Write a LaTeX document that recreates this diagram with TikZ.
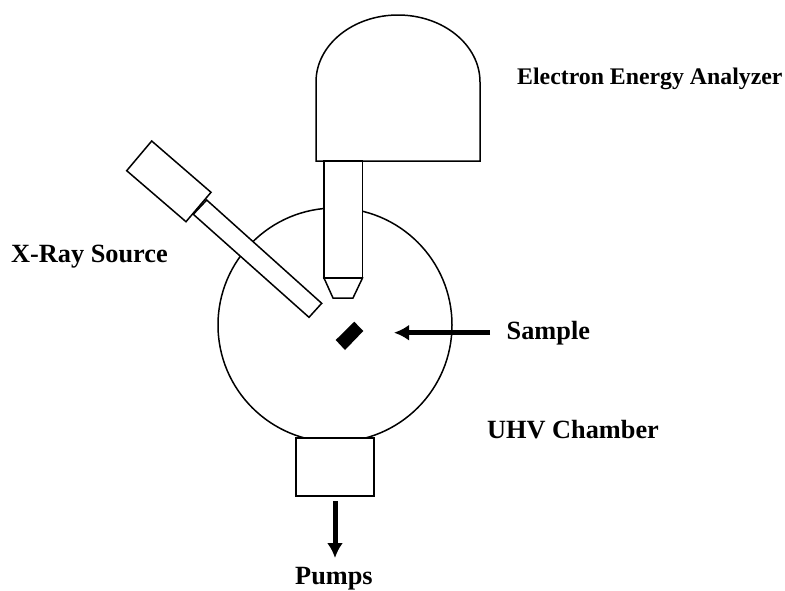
\documentclass[tikz,border=0pt]{standalone}
\usepackage{fontspec}
\setmainfont{Liberation Serif}
\usetikzlibrary{arrows.meta}
\tikzset{
  part/.style={draw=black, fill=white, line width=1.5pt, line join=miter},
  bigarrow/.style={-{Latex[length=15pt,width=16pt]}, line width=5pt, black},
  tag/.style={anchor=base west, inner sep=0pt, font=\fontsize{26.3}{30}\selectfont\bfseries},
  smalltag/.style={tag, font=\fontsize{23.8}{27}\selectfont\bfseries}
}
\begin{document}
\begin{tikzpicture}[x=1pt, y=-1pt]
  \useasboundingbox (0, 0) rectangle (785, 590);
  % UHV chamber
  \draw[part] (335, 325) circle (117);
  % Analyzer head with lens column
  \draw[part] (316, 161) -- (316, 82) arc[start angle=180, end angle=0, x radius=82, y radius=-67] -- (480, 161) -- cycle;
  \draw[part] (324, 161) rectangle (362.5, 278);
  \draw[part] (324, 278) -- (333, 298) -- (353, 298) -- (362.5, 278) -- cycle;
  % X-ray source body and barrel
  \draw[part] (206.7, 200) -- (321.7, 303.3) -- (309, 317.3) -- (193.3, 214.3) -- cycle;
  \draw[part] (151.7, 141) -- (211, 192.3) -- (186, 221.7) -- (126.7, 170.7) -- cycle;
  % Sample
  \fill[black] (354.3, 321.7) -- (363.3, 331) -- (345, 350) -- (335.7, 340) -- cycle;
  % Pump port
  \draw[part] (296, 438) rectangle (374, 496);
  % Labels
  \node[smalltag] (analyzer) at (517, 84.5) {Electron Energy Analyzer};
  \node[tag] (source) at (11, 262.5) {X-Ray Source};
  \node[tag] (sample) at (506.5, 339) {Sample};
  \node[tag] (chamber) at (487, 438) {UHV Chamber};
  \node[tag] (pumps) at (295, 584) {Pumps};
  % Arrows
  \coordinate (sampletail) at (490, 332.7);
  \coordinate (sampletip) at (394, 332.7);
  \coordinate (pumptail) at (335, 501);
  \coordinate (pumptip) at (335, 558);
  \draw[bigarrow] (sampletail) -- (sampletip);
  \draw[bigarrow] (pumptail) -- (pumptip);
\end{tikzpicture}
\end{document}
